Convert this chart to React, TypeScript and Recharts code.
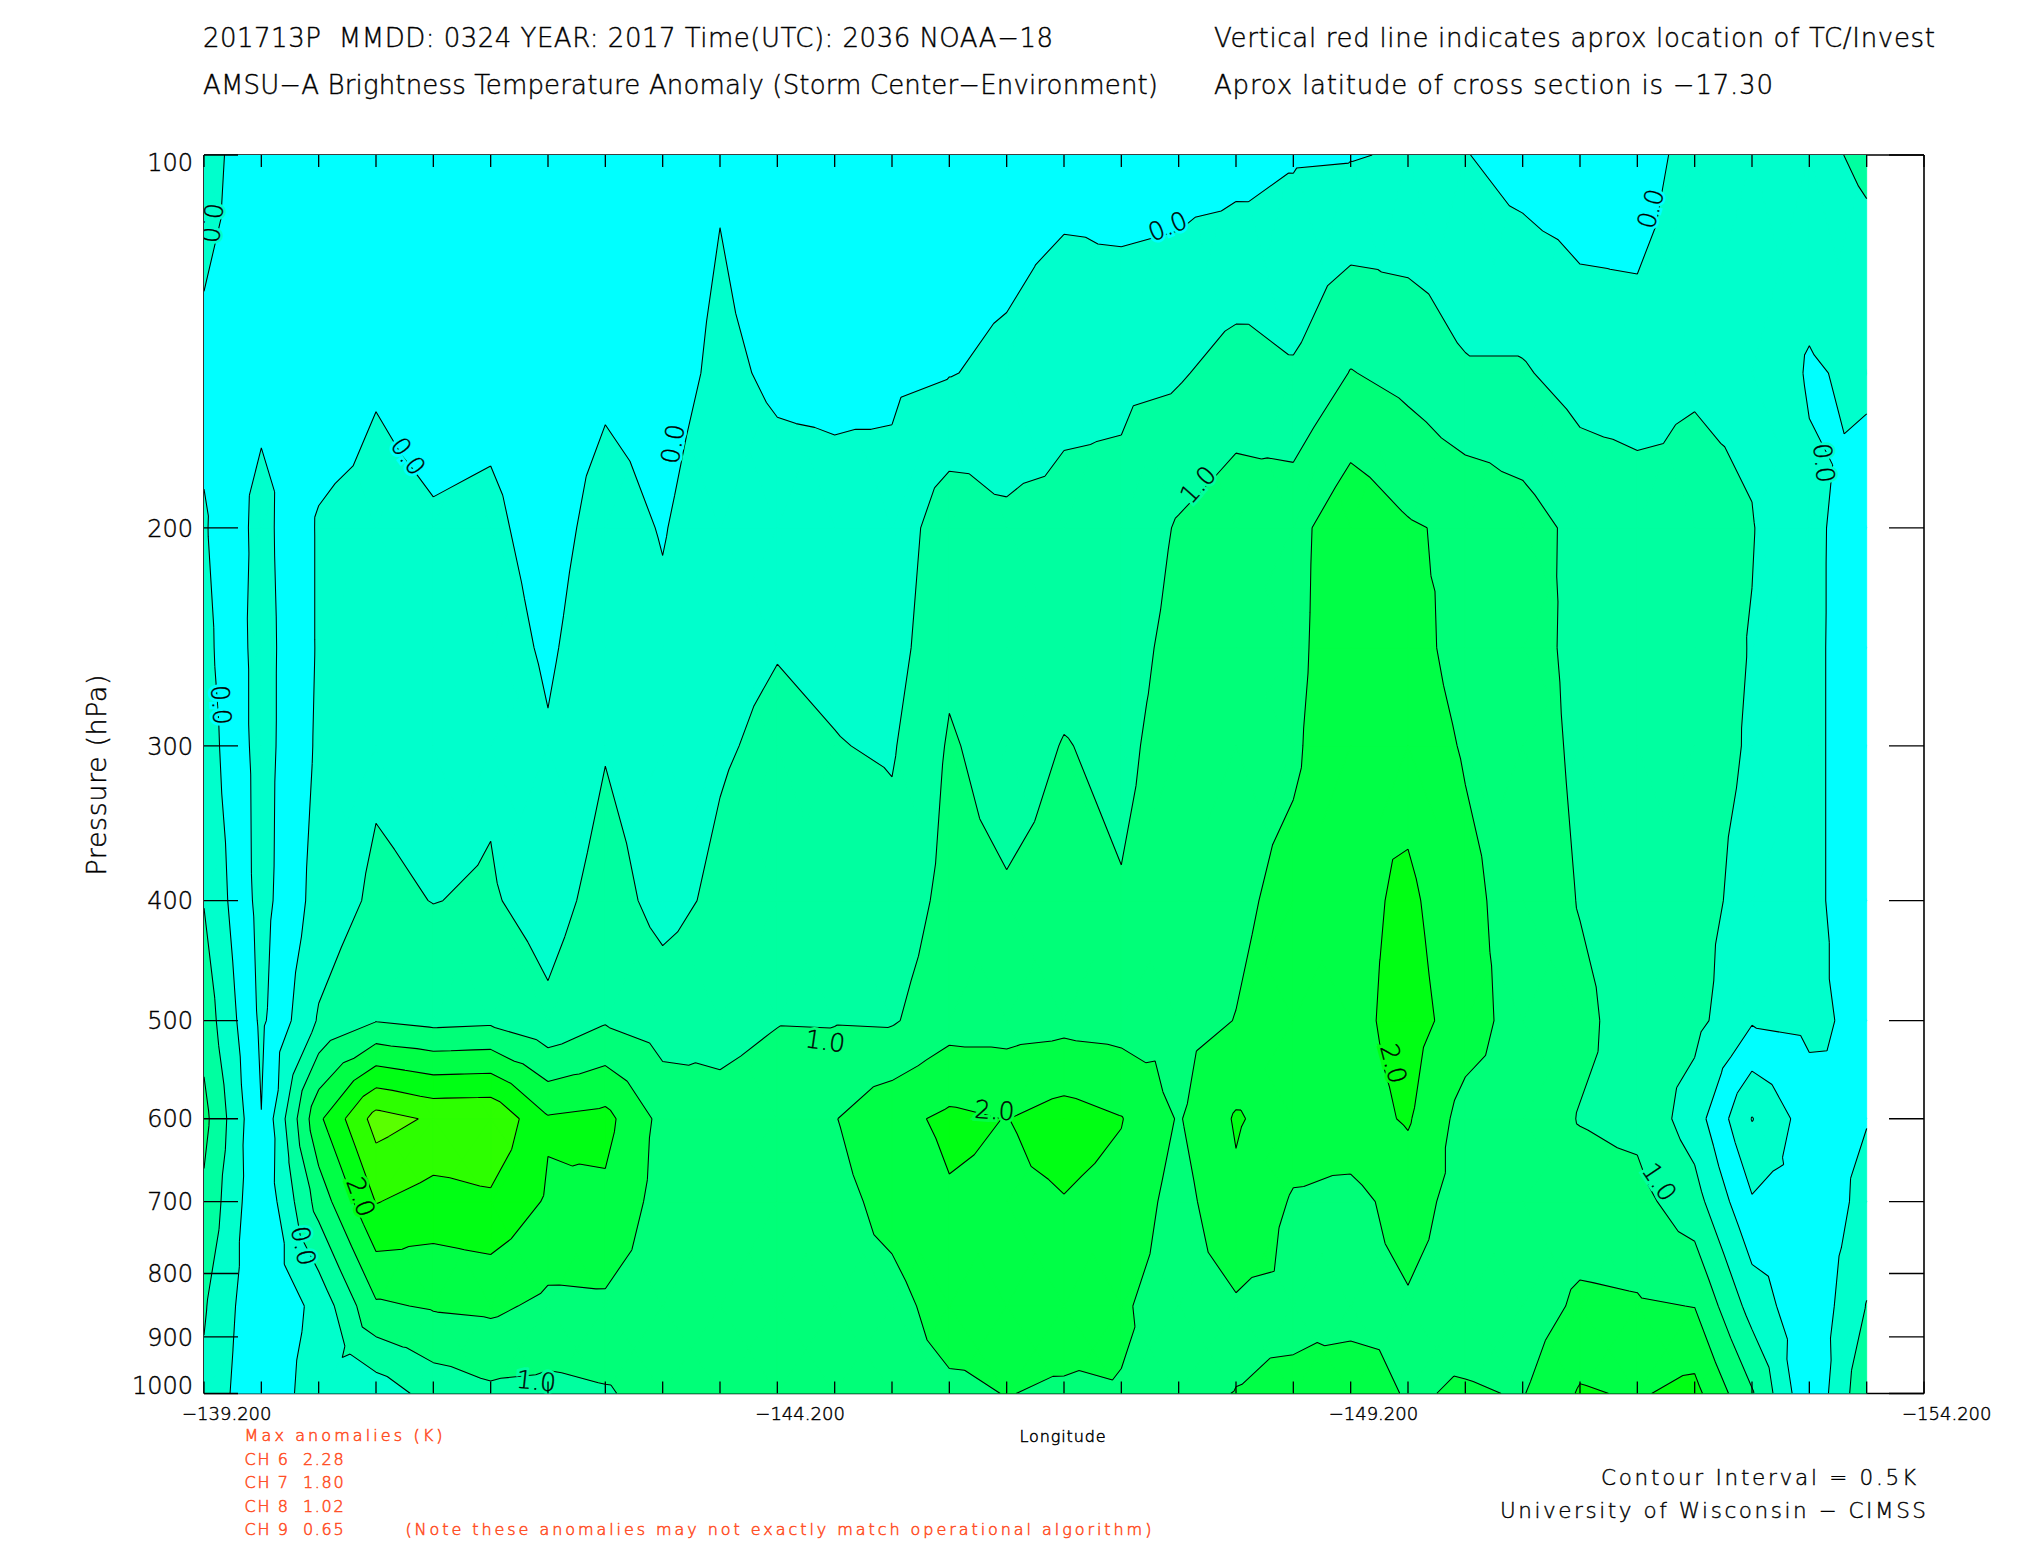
import React, { useMemo } from "react";
import { ComposedChart, Scatter, XAxis, YAxis } from "recharts";

// ---------- data ----------
const LONGITUDES = [
  -139.2, -139.7, -140.2, -140.7, -141.2, -141.7, -142.2, -142.7, -143.2, -143.7,
  -144.2, -144.7, -145.2, -145.7, -146.2, -146.7, -147.2, -147.7, -148.2, -148.7,
  -149.2, -149.7, -150.2, -150.7, -151.2, -151.7, -152.2, -152.7, -153.2, -153.7,
];
const PRESSURE_LEVELS = [100, 150, 200, 250, 300, 400, 500, 600, 700, 850, 1000];

// brightness temperature anomaly (K) per pressure level, one value per longitude
const ANOM_100 = [0.25, -0.45, -0.3, -0.3, -0.3, -0.3, -0.3, -0.3, -0.3, -0.05, -0.3, -0.3, -0.3, -0.3, -0.26, -0.2, -0.29, -0.24, -0.19, -0.05, -0.03, 0.05, 0.02, -0.2, -0.3, -0.3, 0.25, 0.3, 0.35, 0.6];
const ANOM_150 = [-0.15, -0.35, -0.3, -0.05, -0.2, -0.15, -0.3, -0.1, -0.2, 0.1, -0.08, -0.1, -0.1, -0.02, 0.1, 0.35, 0.4, 0.45, 0.7, 0.55, 1.02, 0.85, 0.55, 0.55, 0.3, 0.25, 0.45, 0.4, -0.05, 0.1];
const ANOM_200 = [0.05, -0.66, 0.05, 0.15, 0.05, 0.1, -0.2, 0.2, -0.03, 0.3, 0.2, 0.15, 0.2, 0.8, 0.6, 0.65, 0.65, 1.05, 1.28, 1.33, 1.85, 1.55, 1.4, 1.2, 0.87, 0.75, 0.65, 0.52, 0.12, -0.28];
const ANOM_250 = [0.15, -0.7, 0.05, 0.25, 0.2, 0.25, -0.08, 0.35, 0.1, 0.38, 0.48, 0.4, 0.3, 0.9, 0.65, 0.85, 0.8, 1.15, 1.25, 1.35, 1.9, 1.7, 1.3, 1.15, 0.9, 0.78, 0.7, 0.48, 0.12, -0.3];
const ANOM_300 = [0.26, -0.7, 0.08, 0.4, 0.3, 0.42, 0.05, 0.47, 0.2, 0.45, 0.6, 0.52, 0.45, 1.05, 0.8, 1.02, 0.9, 1.2, 1.3, 1.42, 1.9, 1.8, 1.45, 1.2, 0.92, 0.8, 0.72, 0.45, 0.12, -0.3];
const ANOM_400 = [0.48, -0.68, 0.2, 0.6, 0.49, 0.55, 0.3, 0.7, 0.35, 0.6, 0.8, 0.85, 0.7, 1.15, 1.05, 1.15, 1.03, 1.25, 1.4, 1.65, 1.85, 2.1, 1.65, 1.25, 0.98, 0.8, 0.7, 0.3, 0.12, -0.3];
const ANOM_500 = [0.8, -0.6, 0.55, 0.98, 0.85, 0.9, 0.6, 0.95, 0.75, 0.85, 0.98, 0.97, 0.95, 1.3, 1.3, 1.35, 1.3, 1.35, 1.51, 1.75, 1.84, 2.2, 1.77, 1.23, 1.1, 0.81, 0.65, 0.05, 0.12, -0.15];
const ANOM_600 = [1.15, -0.49, 1.9, 3.2, 2.93, 2.95, 2.05, 2.15, 1.35, 1.15, 1.25, 1.48, 1.85, 2.1, 1.99, 2.2, 2.02, 1.46, 2.05, 1.75, 1.8, 2.05, 1.3, 1.25, 0.98, 0.875, 0.25, -1.02, -0.25, -0.02];
const ANOM_700 = [0.9, -0.45, 1.2, 2.52, 2.3, 2.41, 1.94, 1.9, 1.3, 1.25, 1.3, 1.35, 1.65, 1.95, 1.9, 1.98, 1.85, 1.3, 1.91, 1.45, 1.35, 1.7, 1.3, 1.15, 1.2, 1.16, 0.7, -0.45, -0.35, 0.15];
const ANOM_850 = [0.55, -0.45, 0.15, 1.43, 1.55, 1.6, 1.39, 1.42, 1.25, 1.3, 1.3, 1.3, 1.35, 1.7, 1.65, 1.7, 1.55, 1.3, 1.44, 1.4, 1.3, 1.45, 1.25, 1.2, 1.6, 1.55, 1.49, 0.3, -0.4, 0.52];
const ANOM_1000 = [0.4, -0.48, 0.35, 0.2, 0.7, 0.9, 0.86, 0.95, 1.2, 1.3, 1.3, 1.3, 1.3, 1.42, 1.51, 1.45, 1.48, 1.45, 1.505, 1.58, 1.8, 1.45, 1.55, 1.47, 2.05, 1.95, 2.15, 1.05, -0.45, 0.9];

const CONTOUR_LEVELS = [-1, -0.5, 0, 0.5, 1, 1.5, 2, 2.5, 3];
const BAND_COLORS = ["#00FFCC", "#00FFCC", "#00FFFF", "#00FFCC", "#00FFA0", "#00FF78", "#00FF46", "#00FF14", "#2DFF00", "#5AFF00"];

const X_TICKS = [
  -139.2, -139.7, -140.2, -140.7, -141.2, -141.7, -142.2, -142.7, -143.2, -143.7,
  -144.2, -144.7, -145.2, -145.7, -146.2, -146.7, -147.2, -147.7, -148.2, -148.7,
  -149.2, -149.7, -150.2, -150.7, -151.2, -151.7, -152.2, -152.7, -153.2, -153.7, -154.2,
];
const X_LABELED = [-139.2, -144.2, -149.2, -154.2];
const X_LABELS = ["\u2212139.200", "\u2212144.200", "\u2212149.200", "\u2212154.200"];
const Y_TICKS = [100, 200, 300, 400, 500, 600, 700, 800, 900, 1000];
const Y_LABELS = ["100", "200", "300", "400", "500", "600", "700", "800", "900", "1000"];

// contour labels
const LABEL_LON = [-139.265, -140.979, -143.29, -147.604, -151.818, -153.327, -139.348, -140.066, -147.868, -144.617, -146.094, -140.567, -142.096, -149.572, -151.891];
const LABEL_P = [113.5, 175.1, 171.1, 114.2, 110.5, 177.3, 278, 760, 184.6, 519.6, 591, 694, 977.5, 541.6, 675];
const LABEL_TEXT = ["0.0", "0.0", "0.0", "0.0", "0.0", "0.0", "0.0", "0.0", "1.0", "1.0", "2.0", "2.0", "1.0", "2.0", "1.0"];
const LABEL_ANGLE = [97, 54, -80, -22, -74, 84, 86, 78, -48, 8, 4, 70, 6, 75, 56];

const FONT = "DejaVu Sans";
const FW = 200;
const RED = "#FF5028";

// ---------- geometry helpers ----------
type Vtx = { x: number; y: number; v: number };

function clipPoly(poly: Vtx[], level: number, keepAbove: boolean): Vtx[] {
  const out: Vtx[] = [];
  const n = poly.length;
  for (let i = 0; i < n; i++) {
    const a = poly[i];
    const b = poly[(i + 1) % n];
    const ina = keepAbove ? a.v >= level : a.v < level;
    const inb = keepAbove ? b.v >= level : b.v < level;
    if (ina) out.push(a);
    if (ina !== inb) {
      const t = (level - a.v) / (b.v - a.v);
      out.push({ x: a.x + t * (b.x - a.x), y: a.y + t * (b.y - a.y), v: level });
    }
  }
  return out;
}

function gridRows() {
  return [ANOM_100, ANOM_150, ANOM_200, ANOM_250, ANOM_300, ANOM_400, ANOM_500, ANOM_600, ANOM_700, ANOM_850, ANOM_1000];
}

function buildTriangles(): Vtx[][] {
  const rows = gridRows();
  const ly = PRESSURE_LEVELS.map((p) => Math.log10(p));
  const tris: Vtx[][] = [];
  for (let j = 0; j < PRESSURE_LEVELS.length - 1; j++) {
    for (let i = 0; i < LONGITUDES.length - 1; i++) {
      const a = { x: LONGITUDES[i], y: ly[j], v: rows[j][i] };
      const b = { x: LONGITUDES[i + 1], y: ly[j], v: rows[j][i + 1] };
      const c = { x: LONGITUDES[i + 1], y: ly[j + 1], v: rows[j + 1][i + 1] };
      const d = { x: LONGITUDES[i], y: ly[j + 1], v: rows[j + 1][i] };
      const m = { x: (a.x + b.x) / 2, y: (a.y + d.y) / 2, v: (a.v + b.v + c.v + d.v) / 4 };
      tris.push([a, b, m], [b, c, m], [c, d, m], [d, a, m]);
    }
  }
  return tris;
}

function valueAt(lon: number, p: number): number {
  const rows = gridRows();
  let i = 0;
  while (i < LONGITUDES.length - 2 && lon < LONGITUDES[i + 1]) i++;
  let j = 0;
  while (j < PRESSURE_LEVELS.length - 2 && p > PRESSURE_LEVELS[j + 1]) j++;
  const tx = Math.min(1, Math.max(0, (LONGITUDES[i] - lon) / (LONGITUDES[i] - LONGITUDES[i + 1])));
  const ty = Math.min(1, Math.max(0, (Math.log10(p) - Math.log10(PRESSURE_LEVELS[j])) / (Math.log10(PRESSURE_LEVELS[j + 1]) - Math.log10(PRESSURE_LEVELS[j]))));
  const top = rows[j][i] * (1 - tx) + rows[j][i + 1] * tx;
  const bot = rows[j + 1][i] * (1 - tx) + rows[j + 1][i + 1] * tx;
  return top * (1 - ty) + bot * ty;
}

function bandColor(v: number): string {
  let k = 0;
  while (k < CONTOUR_LEVELS.length && v >= CONTOUR_LEVELS[k]) k++;
  return BAND_COLORS[k];
}

type Pt = { lon: number; p: number };

function computeLayers() {
  const tris = buildTriangles();
  const edges = [-Infinity, ...CONTOUR_LEVELS, Infinity];
  const bands: { color: string; pts: Pt[]; counts: number[] }[] = [];
  for (let k = 0; k < edges.length - 1; k++) {
    const lo = edges[k];
    const hi = edges[k + 1];
    const pts: Pt[] = [];
    const counts: number[] = [];
    for (const t of tris) {
      let poly: Vtx[] = t;
      if (isFinite(lo)) poly = clipPoly(poly, lo, true);
      if (poly.length >= 3 && isFinite(hi)) poly = clipPoly(poly, hi, false);
      if (poly.length >= 3) {
        counts.push(poly.length);
        for (const q of poly) pts.push({ lon: q.x, p: Math.pow(10, q.y) });
      }
    }
    if (counts.length) bands.push({ color: BAND_COLORS[k], pts, counts });
  }
  const lines: { level: number; pts: Pt[] }[] = [];
  for (const L of CONTOUR_LEVELS) {
    const pts: Pt[] = [];
    for (const t of tris) {
      const cross: Pt[] = [];
      for (let e = 0; e < 3; e++) {
        const a = t[e];
        const b = t[(e + 1) % 3];
        const sa = a.v >= L;
        const sb = b.v >= L;
        if (sa !== sb) {
          const f = (L - a.v) / (b.v - a.v);
          cross.push({ lon: a.x + f * (b.x - a.x), p: Math.pow(10, a.y + f * (b.y - a.y)) });
        }
      }
      if (cross.length === 2) pts.push(cross[0], cross[1]);
    }
    lines.push({ level: L, pts });
  }
  const labels = LABEL_TEXT.map((text, i) => ({
    lon: LABEL_LON[i],
    p: LABEL_P[i],
    text,
    angle: LABEL_ANGLE[i],
    halo: bandColor(valueAt(LABEL_LON[i], LABEL_P[i])),
  }));
  return { bands, lines, labels };
}

// ---------- renderers ----------
const EmptyShape = () => <g />;

const polygonLine = (counts: number[], color: string) => (props: any) => {
  const pts = props.points || [];
  let d = "";
  let k = 0;
  for (const n of counts) {
    for (let i = 0; i < n; i++) {
      const q = pts[k + i];
      if (!q) continue;
      d += (i === 0 ? "M" : "L") + q.x.toFixed(2) + "," + q.y.toFixed(2);
    }
    d += "Z";
    k += n;
  }
  return <path d={d} fill={color} stroke={color} strokeWidth={0.9} strokeLinejoin="round" />;
};

const segmentLine = (props: any) => {
  const pts = props.points || [];
  let d = "";
  for (let i = 0; i + 1 < pts.length; i += 2) {
    d += "M" + pts[i].x.toFixed(2) + "," + pts[i].y.toFixed(2) + "L" + pts[i + 1].x.toFixed(2) + "," + pts[i + 1].y.toFixed(2);
  }
  return <path d={d} fill="none" stroke="#000" strokeWidth={1.05} />;
};

const LabelShape = (props: any) => {
  const { cx, cy, payload } = props;
  if (cx == null || cy == null) return <g />;
  return (
    <g transform={`rotate(${payload.angle} ${cx} ${cy})`}>
      <text
        x={cx}
        y={cy}
        textAnchor="middle"
        dominantBaseline="central"
        fontFamily={FONT}
        fontWeight={FW}
        fontSize={25}
        fill={payload.halo}
        stroke={payload.halo}
        strokeWidth={6}
      >
        {payload.text}
      </text>
      <text
        x={cx}
        y={cy}
        textAnchor="middle"
        dominantBaseline="central"
        fontFamily={FONT}
        fontWeight={FW}
        fontSize={25}
        fill="#000"
        stroke="#000"
        strokeWidth={0.35}
      >
        {payload.text}
      </text>
    </g>
  );
};

const BottomTick = (props: any) => {
  const { x, y, payload } = props;
  const idx = X_LABELED.findIndex((v) => Math.abs(v - payload.value) < 1e-6);
  return (
    <g>
      <line x1={x} y1={y} x2={x} y2={y - 12} stroke="#000" strokeWidth={1.3} />
      {idx >= 0 && (
        <text x={x - 22} y={y + 26.5} fontSize={18} fontFamily={FONT} fontWeight={FW} fill="#000" stroke="#000" strokeWidth={0.45} textAnchor="start">
          {X_LABELS[idx]}
        </text>
      )}
    </g>
  );
};

const TopTick = (props: any) => {
  const { x, y } = props;
  return <line x1={x} y1={y} x2={x} y2={y + 12} stroke="#000" strokeWidth={1.3} />;
};

const LeftTick = (props: any) => {
  const { x, y, payload } = props;
  const idx = Y_TICKS.indexOf(payload.value);
  const dy = idx === 0 ? 16 : idx === Y_TICKS.length - 1 ? 0 : 8.7;
  return (
    <g>
      <line x1={x} y1={y} x2={x + 34} y2={y} stroke="#000" strokeWidth={1.3} />
      <text x={x - 11} y={y + dy} fontSize={24} fontFamily={FONT} fontWeight={FW} fill="#000" stroke="#000" strokeWidth={0.4} textAnchor="end">
        {Y_LABELS[idx]}
      </text>
    </g>
  );
};

const RightTick = (props: any) => {
  const { x, y } = props;
  return <line x1={x} y1={y} x2={x - 35} y2={y} stroke="#000" strokeWidth={1.3} />;
};

export default function App() {
  const { bands, lines, labels } = useMemo(computeLayers, []);
  const axisLine = { stroke: "#000", strokeWidth: 1.6 };
  return (
    <div style={{ position: "absolute", left: 0, top: 0, width: 2025, height: 1550, background: "#fff" }}>
      <ComposedChart width={2025} height={1550} margin={{ top: 154, right: 100, bottom: 155.5, left: 203 }}>
        {bands.map((b, i) => (
          <Scatter
            key={"band" + i}
            data={b.pts}
            xAxisId="b"
            yAxisId="l"
            isAnimationActive={false}
            shape={EmptyShape}
            line={polygonLine(b.counts, b.color)}
            legendType="none"
          />
        ))}
        {lines.map((l, i) => (
          <Scatter
            key={"line" + i}
            data={l.pts}
            xAxisId="b"
            yAxisId="l"
            isAnimationActive={false}
            shape={EmptyShape}
            line={segmentLine}
            legendType="none"
          />
        ))}
        <Scatter data={labels} xAxisId="b" yAxisId="l" isAnimationActive={false} shape={LabelShape} legendType="none" />
        <XAxis
          xAxisId="b"
          dataKey="lon"
          type="number"
          domain={[-154.2, -139.2]}
          reversed
          allowDataOverflow
          ticks={X_TICKS}
          interval={0}
          height={1}
          tickSize={0}
          tickMargin={0}
          tickLine={false}
          axisLine={axisLine}
          tick={BottomTick}
        />
        <XAxis
          xAxisId="t"
          orientation="top"
          dataKey="lon"
          type="number"
          domain={[-154.2, -139.2]}
          reversed
          allowDataOverflow
          ticks={X_TICKS}
          interval={0}
          height={1}
          tickSize={0}
          tickMargin={0}
          tickLine={false}
          axisLine={axisLine}
          tick={TopTick}
        />
        <YAxis
          yAxisId="l"
          dataKey="p"
          type="number"
          scale="log"
          domain={[100, 1000]}
          reversed
          allowDataOverflow
          ticks={Y_TICKS}
          interval={0}
          width={1}
          tickSize={0}
          tickMargin={0}
          tickLine={false}
          axisLine={axisLine}
          tick={LeftTick}
        />
        <YAxis
          yAxisId="r"
          orientation="right"
          dataKey="p"
          type="number"
          scale="log"
          domain={[100, 1000]}
          reversed
          allowDataOverflow
          ticks={Y_TICKS}
          interval={0}
          width={1}
          tickSize={0}
          tickMargin={0}
          tickLine={false}
          axisLine={axisLine}
          tick={RightTick}
        />
      </ComposedChart>
      <svg
        width={2025}
        height={1550}
        style={{ position: "absolute", left: 0, top: 0, pointerEvents: "none" }}
        fontFamily={FONT}
        fontWeight={FW}
      >
        <g fill="#000" stroke="#000" strokeWidth={0.4}>
          <text x={203} y={46.7} fontSize={26} xmlSpace="preserve" textLength={850}>
            {"201713P  MMDD: 0324 YEAR: 2017 Time(UTC): 2036 NOAA\u221218"}
          </text>
          <text x={203} y={94} fontSize={26} textLength={955}>
            {"AMSU\u2212A Brightness Temperature Anomaly (Storm Center\u2212Environment)"}
          </text>
          <text x={1214} y={46.7} fontSize={26} textLength={721}>
            {"Vertical red line indicates aprox location of TC/Invest"}
          </text>
          <text x={1214} y={94} fontSize={26} textLength={559}>
            {"Aprox latitude of cross section is \u221217.30"}
          </text>
          <text x={106} y={775} fontSize={27} textAnchor="middle" textLength={201} transform="rotate(-90 106 775)">
            {"Pressure (hPa)"}
          </text>
          <text x={1062.5} y={1441.7} fontSize={16} textAnchor="middle" textLength={86} strokeWidth={0.5}>
            {"Longitude"}
          </text>
          <text x={1601} y={1485} fontSize={21.5} textLength={315}>
            {"Contour Interval = 0.5K"}
          </text>
          <text x={1500} y={1518.3} fontSize={21.5} textLength={426}>
            {"University of Wisconsin \u2212 CIMSS"}
          </text>
        </g>
        <g fill={RED} stroke={RED} strokeWidth={0.55}>
          <text x={244.6} y={1441} fontSize={16} textLength={198}>
            {"Max anomalies (K)"}
          </text>
          <text x={244.6} y={1465} fontSize={16} xmlSpace="preserve" textLength={99}>
            {"CH 6  2.28"}
          </text>
          <text x={244.6} y={1488.3} fontSize={16} xmlSpace="preserve" textLength={99}>
            {"CH 7  1.80"}
          </text>
          <text x={244.6} y={1511.7} fontSize={16} xmlSpace="preserve" textLength={99}>
            {"CH 8  1.02"}
          </text>
          <text x={244.6} y={1535} fontSize={16} xmlSpace="preserve" textLength={99}>
            {"CH 9  0.65"}
          </text>
          <text x={405.4} y={1535} fontSize={16} textLength={746}>
            {"(Note these anomalies may not exactly match operational algorithm)"}
          </text>
        </g>
      </svg>
    </div>
  );
}
